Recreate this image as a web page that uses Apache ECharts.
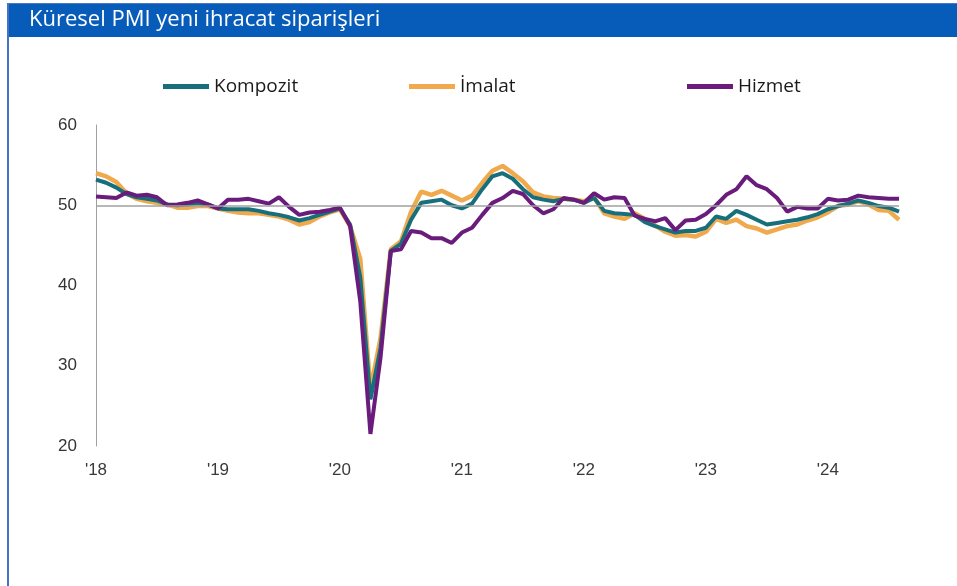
<!DOCTYPE html>
<html>
<head>
<meta charset="utf-8">
<script src="https://cdn.jsdelivr.net/npm/echarts@6/dist/echarts.min.js"></script>
<style>
    html, body { margin: 0; padding: 0; background: #ffffff; }
    #main { width: 957px; height: 586px; }
</style>
</head>
<body>
<div id="main"></div>
<script>
// aylar: 2018-01 ... 2024-08
var months = [];
for (var y = 2018; y <= 2024; y++) {
    for (var m = 1; m <= 12; m++) {
        if (y === 2024 && m > 8) break;
        months.push(y + '-' + (m < 10 ? '0' + m : m));
    }
}

var kompozit = [
    53.2, 52.8, 52.2, 51.4, 51.0, 50.8, 50.6, 50.1, 50.0, 50.1, 50.3, 50.1,
    49.6, 49.5, 49.5, 49.5, 49.3, 49.0, 48.8, 48.5, 48.1, 48.4, 48.8, 49.2,
    49.6, 47.6, 41.0, 25.8, 32.3, 44.3, 45.2, 48.2, 50.3, 50.5, 50.7, 50.0,
    49.6, 50.2, 52.0, 53.6, 54.0, 53.3, 52.0, 51.0, 50.7, 50.5, 50.8, 50.7,
    50.3, 50.9, 49.3, 49.0, 48.9, 48.8, 47.9, 47.4, 47.0, 46.6, 46.8, 46.8,
    47.2, 48.6, 48.3, 49.3, 48.8, 48.2, 47.6, 47.8, 48.0, 48.2, 48.5, 48.9,
    49.5, 49.9, 50.2, 50.6, 50.3, 49.9, 49.7, 49.2
];
var imalat = [
    54.0, 53.6, 52.9, 51.5, 50.8, 50.5, 50.3, 50.1, 49.7, 49.7, 49.9, 49.9,
    49.6, 49.3, 49.1, 49.0, 49.0, 48.8, 48.6, 48.2, 47.6, 47.9, 48.6, 49.1,
    49.5, 47.4, 43.3, 27.0, 33.5, 44.5, 45.5, 49.2, 51.7, 51.3, 51.8, 51.2,
    50.6, 51.2, 52.8, 54.3, 54.9, 54.0, 53.0, 51.6, 51.1, 50.9, 50.8, 50.7,
    50.5, 51.0, 49.0, 48.6, 48.3, 49.0, 48.3, 47.5, 46.7, 46.2, 46.3, 46.1,
    46.7, 48.3, 47.8, 48.2, 47.4, 47.1, 46.6, 47.0, 47.4, 47.6, 48.1, 48.5,
    49.1, 49.9, 50.1, 50.5, 50.1, 49.4, 49.3, 48.2
];
var hizmet = [
    51.1, 51.0, 50.9, 51.6, 51.2, 51.3, 51.0, 50.0, 50.1, 50.3, 50.6, 50.1,
    49.6, 50.7, 50.7, 50.8, 50.5, 50.2, 51.0, 49.8, 48.8, 49.1, 49.2, 49.4,
    49.7, 47.4, 38.0, 21.5, 31.1, 44.3, 44.5, 46.8, 46.6, 45.9, 45.9, 45.3,
    46.6, 47.2, 48.8, 50.3, 50.9, 51.8, 51.4, 50.0, 49.0, 49.5, 50.9, 50.7,
    50.3, 51.5, 50.7, 51.0, 50.9, 48.7, 48.3, 48.0, 48.4, 46.9, 48.1, 48.2,
    48.9, 50.0, 51.3, 52.0, 53.6, 52.5, 52.0, 50.9, 49.2, 49.8, 49.6, 49.6,
    50.8, 50.6, 50.7, 51.2, 51.0, 50.9, 50.8, 50.8
];

var colors = {
    kompozit: '#176f7b',
    imalat: '#f0a94c',
    hizmet: '#6a1c7c'
};

var axisFont = "'Liberation Sans Narrow', 'Liberation Sans', sans-serif";

var myChart = echarts.init(document.getElementById('main'));

// ortak legend ayarları
function legendItem(name, left) {
    return {
        data: [name],
        left: left,
        top: 72,
        itemWidth: 46,
        itemHeight: 5,
        itemGap: 10,
        icon: 'rect',
        textStyle: {
            fontFamily: 'Open Sans',
            fontSize: 19,
            color: '#1a1a1a',
            padding: [0, 0, 10, 0]
        }
    };
}

var option = {
    backgroundColor: '#ffffff',
    animation: false,
    title: {
        text: 'Küresel PMI yeni ihracat siparişleri',
        left: 24,
        top: 4,
        textStyle: {
            color: '#ffffff',
            fontFamily: 'Open Sans',
            fontWeight: 'normal',
            fontSize: 22
        }
    },
    graphic: [
        // mavi başlık bandı
        { type: 'rect', z: -1, shape: { x: 7, y: 3, width: 950, height: 34 }, style: { fill: '#075cb9' } },
        { type: 'line', shape: { x1: 7, y1: 3.5, x2: 957, y2: 3.5 }, style: { stroke: '#4a77c6', lineWidth: 1 } },
        // sol kenar çizgisi
        { type: 'line', shape: { x1: 8, y1: 3, x2: 8, y2: 586 }, style: { stroke: '#4472c4', lineWidth: 2 } }
    ],
    legend: [
        legendItem('Kompozit', 158),
        legendItem('İmalat', 404),
        legendItem('Hizmet', 682)
    ],
    grid: {
        left: 96,
        right: 58,
        top: 125,
        bottom: 140
    },
    xAxis: {
        type: 'category',
        data: months,
        boundaryGap: false,
        axisLine: { show: false },
        axisTick: { show: false },
        axisLabel: {
            interval: function (i) { return i % 12 === 0; },
            formatter: function (v) { return "'" + v.slice(2, 4); },
            margin: 16,
            color: '#3a3a3a',
            fontFamily: axisFont,
            fontSize: 17
        },
        splitLine: { show: false }
    },
    yAxis: {
        type: 'value',
        min: 20,
        max: 60,
        interval: 10,
        axisLine: { show: true, lineStyle: { color: '#a0a0a0', width: 1 } },
        axisTick: { show: false },
        splitLine: { show: false },
        axisLabel: {
            margin: 19,
            color: '#333',
            fontFamily: axisFont,
            fontSize: 17
        }
    },
    series: [{
            name: 'İmalat',
            type: 'line',
            data: imalat,
            showSymbol: false,
            symbol: 'none',
            lineStyle: { color: colors.imalat, width: 4.5 },
            itemStyle: { color: colors.imalat },
            // 50 çizgisi
            markLine: {
                silent: true,
                symbol: 'none',
                label: { show: false },
                lineStyle: { color: '#a0a0a0', width: 1.5, type: 'solid' },
                data: [{ yAxis: 50 }]
            }
        },
        {
            name: 'Kompozit',
            type: 'line',
            data: kompozit,
            showSymbol: false,
            symbol: 'none',
            lineStyle: { color: colors.kompozit, width: 4 },
            itemStyle: { color: colors.kompozit }
        },
        {
            name: 'Hizmet',
            type: 'line',
            data: hizmet,
            showSymbol: false,
            symbol: 'none',
            lineStyle: { color: colors.hizmet, width: 4 },
            itemStyle: { color: colors.hizmet }
        }
    ]
};

myChart.setOption(option);
</script>
</body>
</html>
